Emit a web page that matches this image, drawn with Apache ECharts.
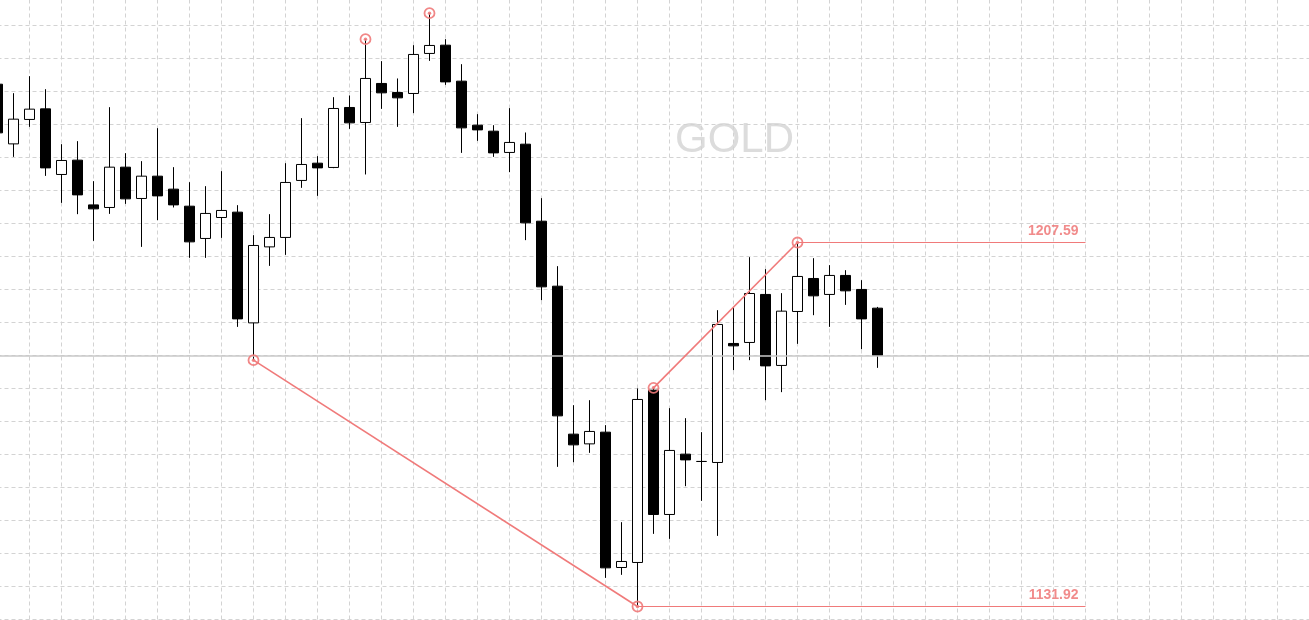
<!DOCTYPE html>
<html>
<head>
<meta charset="utf-8">
<script src="https://cdn.jsdelivr.net/npm/echarts@6/dist/echarts.min.js"></script>
<style>
html,body{margin:0;padding:0;background:#fff;}
#chart{width:1309px;height:620px;}
</style>
</head>
<body>
<div id="chart"></div>
<script>
// ---- data ----
const opens = [1240.50,1228.09,1233.17,1235.37,1221.73,1224.71,1215.41,1214.87,1223.25,1216.74,
  1221.38,1218.68,1215.14,1208.43,1212.79,1213.90,1190.88,1206.68,1208.64,1220.49,
  1224.08,1223.19,1235.66,1232.54,1240.65,1238.78,1238.57,1246.89,1248.61,1241.13,
  1231.98,1230.73,1226.31,1228.03,1212.02,1198.51,1167.75,1165.73,1168.16,1140.03,
  1141.07,1176.89,1151.05,1163.59,1162.07,1161.86,1186.60,1186.81,1196.79,1182.03,
  1193.25,1200.11,1196.79,1200.74,1197.83,1193.94];
const closes = [1230.38,1233.23,1235.31,1223.10,1224.64,1217.49,1214.58,1223.25,1216.66,1221.38,
  1217.28,1215.41,1207.72,1213.63,1214.25,1191.71,1206.97,1208.64,1220.07,1223.81,
  1223.10,1235.45,1232.46,1241.69,1238.70,1237.66,1246.68,1248.55,1240.98,1231.42,
  1231.00,1226.22,1228.39,1211.67,1198.37,1171.55,1165.52,1168.31,1139.95,1141.28,
  1174.96,1151.05,1164.36,1162.40,1162.07,1190.55,1186.10,1196.99,1181.94,1193.32,
  1200.53,1196.50,1200.74,1197.54,1191.71,1184.10];
const lows = [1228.86,1225.39,1231.63,1221.44,1215.83,1213.48,1207.93,1213.54,1215.62,1206.68,
  1212.23,1214.87,1204.40,1204.40,1208.55,1190.05,1183.13,1202.73,1205.02,1218.95,
  1217.28,1223.04,1231.21,1221.73,1235.37,1231.63,1234.48,1245.35,1240.36,1226.22,
  1228.72,1225.39,1222.21,1208.08,1195.60,1160.95,1161.92,1163.86,1137.87,1138.50,
  1131.92,1147.02,1145.98,1156.93,1153.88,1146.60,1181.05,1183.13,1174.81,1176.48,
  1186.52,1192.48,1190.05,1194.62,1185.42,1181.53];
const highs = [1241.75,1238.63,1242.17,1239.46,1228.03,1228.66,1220.34,1235.72,1226.16,1224.50,
  1231.36,1223.25,1220.13,1219.30,1222.42,1215.35,1209.11,1213.48,1224.08,1233.44,
  1225.54,1237.80,1238.16,1249.86,1245.29,1241.69,1248.61,1255.26,1249.86,1244.66,
  1234.27,1231.98,1235.52,1230.46,1216.81,1202.67,1173.77,1174.81,1169.62,1149.45,
  1177.25,1177.37,1173.15,1171.07,1168.16,1193.52,1194.21,1204.54,1202.05,1197.06,
  1207.59,1204.33,1202.88,1201.84,1199.76,1194.20];
// swing points marked on the chart
const swingHighIdx = [23, 27, 41, 50];
const swingLowIdx = [16, 40];
// zigzag legs: [fromIdx, fromKind, toIdx, toKind]
const legs = [[16, 'low', 40, 'low'], [41, 'high', 50, 'high']];
// price levels drawn to the right with labels: [startIdx, kind, endIdx]
const levels = [[50, 'high', 68], [40, 'low', 68]];
const watermark = 'GOLD';
const TOTAL_SLOTS = 83;
const PMIN = 1122.357, PMAX = 1259.561;

const categories = [];
for (let i = 0; i < TOTAL_SLOTS; i++) categories.push(String(i + 1));
const candles = opens.map((o, i) => [o, closes[i], lows[i], highs[i]]);
const val = (i, kind) => kind === 'high' ? highs[i] : lows[i];
const lastClose = closes[closes.length - 1];
const RED = '#f07a7a';

const series = [{
  type: 'candlestick',
  data: candles,
  xAxisIndex: 0, yAxisIndex: 0,
  barWidth: 10,
  clip: false,
  itemStyle: {
    color: '#ffffff', color0: '#000000',
    borderColor: '#000000', borderColor0: '#000000', borderColorDoji: '#000000',
    borderWidth: 1
  },
  markLine: {
    silent: true, symbol: ['none', 'none'],
    label: {show: false},
    lineStyle: {color: '#c8c8c8', type: 'solid', width: 1.5},
    data: [{yAxis: lastClose}]
  },
  z: 2
}];
legs.forEach(l => {
  series.push({
    type: 'line', xAxisIndex: 0, yAxisIndex: 0,
    data: [[l[0], val(l[0], l[1])], [l[2], val(l[2], l[3])]],
    showSymbol: false, symbol: 'none', silent: true,
    lineStyle: {color: RED, width: 1.6}, z: 5
  });
});
levels.forEach(l => {
  const v = val(l[0], l[1]);
  series.push({
    type: 'line', xAxisIndex: 0, yAxisIndex: 0,
    data: [[l[0], v], [l[2], v]],
    showSymbol: false, symbol: 'none', silent: true,
    lineStyle: {color: RED, width: 1.2}, z: 5
  });
  series.push({
    type: 'scatter', xAxisIndex: 0, yAxisIndex: 0,
    data: [[l[2], v]], symbolSize: 0, silent: true,
    label: {
      show: true, position: 'top', align: 'right', distance: 4, offset: [-7, 0],
      formatter: v.toFixed(2), color: '#ee6e6e',
      fontFamily: 'Liberation Sans', fontWeight: 'bold', fontSize: 14
    }, z: 6
  });
});
const markerPts = swingHighIdx.map(i => [i, highs[i]]).concat(swingLowIdx.map(i => [i, lows[i]]));
series.push({
  type: 'scatter', xAxisIndex: 0, yAxisIndex: 0, data: markerPts,
  symbol: 'circle', symbolSize: 10, silent: true,
  itemStyle: {color: 'rgba(0,0,0,0)', borderColor: RED, borderWidth: 1.8, opacity: 0.9}, z: 7
});
series.push({
  type: 'scatter', xAxisIndex: 0, yAxisIndex: 0, data: markerPts,
  symbol: 'circle', symbolSize: 3.5, silent: true,
  itemStyle: {color: RED, opacity: 0.9}, z: 8
});

const gridLine = {show: true, lineStyle: {color: '#d3d3d3', type: [4, 3], width: 1}};
const option = {
  animation: false,
  backgroundColor: '#ffffff',
  grid: {left: -2.5, right: -0.5, top: -7.5, bottom: -32.5, containLabel: false, outerBoundsMode: 'none'},
  graphic: [{
    type: 'text', left: 675, top: 119, silent: true, z: 0,
    style: {text: watermark, fill: '#dcdcdc', font: '42px "Liberation Sans", Arial, sans-serif'}
  }],
  xAxis: {
    type: 'category', data: categories, boundaryGap: false,
    axisLine: {show: false}, axisTick: {show: false}, axisLabel: {show: false},
    splitLine: Object.assign({interval: 1}, gridLine)
  },
  yAxis: [{
    type: 'value', min: PMIN, max: PMAX, scale: true,
    axisLine: {show: false}, axisTick: {show: false}, axisLabel: {show: false},
    splitLine: {show: false}
  }, {
    type: 'value', min: 0, max: 20, interval: 1,
    axisLine: {show: false}, axisTick: {show: false}, axisLabel: {show: false},
    splitLine: gridLine
  }],
  series: series
};
const chart = echarts.init(document.getElementById('chart'), null, {renderer: 'canvas'});
chart.setOption(option);
</script>
</body>
</html>
